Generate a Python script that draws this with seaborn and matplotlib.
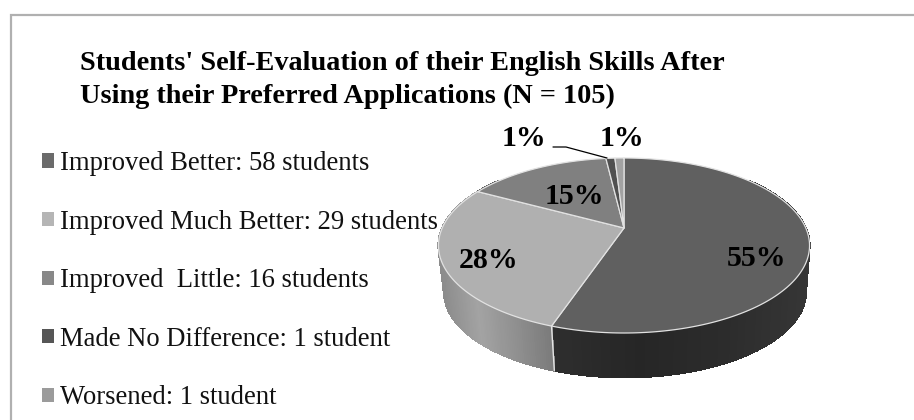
import numpy as np
import matplotlib
matplotlib.use("Agg")
import matplotlib.pyplot as plt
from matplotlib.patches import Polygon, Rectangle
from matplotlib.collections import PolyCollection
import seaborn as sns

# Survey results
categories = ["Improved Better: 58 students", "Improved Much Better: 29 students",
              "Improved  Little: 16 students", "Made No Difference: 1 student",
              "Worsened: 1 student"]
students = [58, 29, 16, 1, 1]
top_colors = ["#606060", "#b0b0b0", "#808080", "#505050", "#a2a2a2"]
key_colors = ["#6b6b6b", "#b5b5b5", "#888888", "#565656", "#9b9b9b"]
side_ramps = [["#2e2e2e", "#262626", "#2c2c2c", "#363636"],
              ["#8c8c8c", "#a3a3a3", "#8f8f8f", "#7a7a7a"],
              ["#5a5a5a", "#5a5a5a"], ["#303030", "#303030"], ["#777777", "#777777"]]
title_lines = ["Students' Self-Evaluation of their English Skills After",
               "Using their Preferred Applications (N = 105)"]

sns.set_theme(style="white")
plt.rcParams["font.family"] = ["Liberation Serif", "DejaVu Serif"]

fig = plt.figure(figsize=(9.14, 4.2), dpi=100)
ax = fig.add_axes([0, 0, 1, 1])
ax.set_xlim(0, 914)
ax.set_ylim(420, 0)
ax.axis("off")

# Open frame along the top and left edges
ax.plot([10.5, 10.5, 914], [420, 15, 15], color="#b0b0b0", lw=1.6, solid_joinstyle="miter", zorder=1)


def project(theta, scale=1.0, cx=624.0, cy=228.0):
    """Perspective view of a flat disc; theta runs clockwise from the far point."""
    w = 1 + 0.2 * np.cos(theta)
    return cx + scale * 181.8 * np.sin(theta) / w, cy - scale * 84.0 * np.cos(theta) / w


shares = np.array(students, dtype=float) / sum(students)
edges = np.concatenate([[0], np.cumsum(shares)]) * 2 * np.pi
DROP = 47
LOW = 0.975

# Cylinder wall, shaded in thin strips across the front of the disc
for i in range(len(students)):
    t = np.linspace(edges[i], edges[i + 1], 160)
    xa, ya = project(t)
    xb, yb = project(t, LOW, 625, 228 + DROP)
    ramp = sns.blend_palette(side_ramps[i], 256)
    quads, faces = [], []
    span = max(xa.max() - xa.min(), 1)
    for j in range(len(t) - 1):
        # Only the part facing the viewer is visible
        if np.cos(t[j]) > 0.62 and np.cos(t[j + 1]) > 0.62:
            continue
        quads.append([(xa[j], ya[j]), (xa[j + 1], ya[j + 1]), (xb[j + 1], yb[j + 1]), (xb[j], yb[j])])
        frac = (0.5 * (xa[j] + xa[j + 1]) - xa.min()) / span
        faces.append(ramp[int(np.clip(frac, 0, 1) * 255)])
    if quads:
        ax.add_collection(PolyCollection(quads, facecolors=faces, edgecolors=faces, linewidths=0.8,
                                         antialiaseds=False, zorder=2))

# White seam on the wall where the two largest slices meet
sx, sy = project(edges[1])
bx, by = project(edges[1], LOW, 625, 228 + DROP)
ax.plot([sx, bx], [sy, by], color="#e4e4e4", lw=1.0, zorder=3)

# Top face
for i in range(len(students)):
    t = np.linspace(edges[i], edges[i + 1], 200)
    x, y = project(t)
    verts = np.column_stack([np.r_[624.0, x], np.r_[228.0, y]])
    ax.add_patch(Polygon(verts, closed=True, facecolor=top_colors[i], edgecolor="#e2e2e2",
                         lw=0.9, joinstyle="round", zorder=4))

# Percentage labels
label_xy = [(757, 259), (489, 261), (574, 196), (524, 139), (622, 139)]
for share, (lx, ly) in zip(shares, label_xy):
    ax.text(lx, ly, f"{share * 100:.0f}%", ha="center", va="center",
            fontsize=21.5, fontweight="bold", color="black", zorder=6)

# Leader line for the narrow slice
ax.plot([553, 566, 607], [147, 147, 158], color="black", lw=0.9, zorder=5)

ax.text(80, 70, title_lines[0], fontsize=20.3, fontweight="bold", color="black", va="baseline")
ax.text(80, 103, title_lines[1], fontsize=20.3, fontweight="bold", color="black", va="baseline")

handles = [Rectangle((0, 0), 1, 1, facecolor=c, edgecolor="none") for c in key_colors]
leg = ax.legend(handles, categories, loc="upper left", bbox_to_anchor=(42 / 914, 1 - 151 / 420),
                frameon=False, fontsize=19.2, handlelength=0.45, handleheight=0.45,
                handletextpad=0.22, labelspacing=1.26, borderpad=0, borderaxespad=0, labelcolor="#111111")
leg.set_zorder(7)

fig.savefig("out.png", dpi=100, facecolor="white")
